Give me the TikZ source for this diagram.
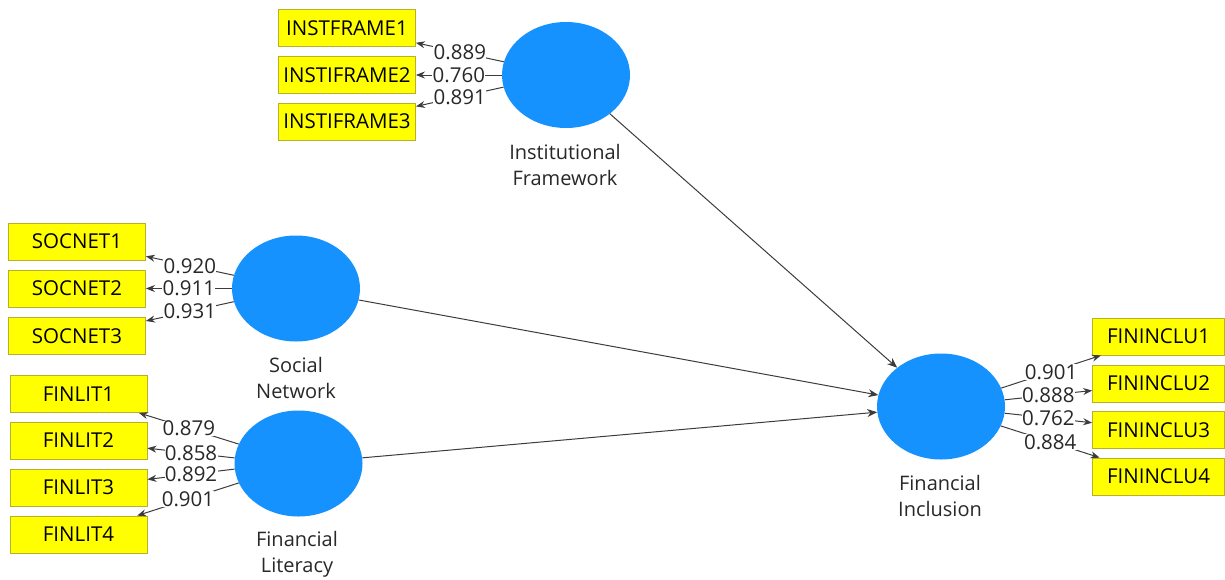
\documentclass[tikz,border=0pt]{standalone}
\usepackage{fontspec}
\setmainfont{Open Sans}
\usetikzlibrary{arrows.meta,shapes.geometric}
\definecolor{lvblue}{RGB}{22,146,255}
\definecolor{mvyellow}{RGB}{255,255,0}
\definecolor{mvborder}{RGB}{185,175,40}
\definecolor{txt}{RGB}{40,40,40}
\definecolor{lncol}{RGB}{60,60,60}
\tikzset{
  latent/.style={ellipse, fill=lvblue, minimum width=128pt, minimum height=106pt, inner sep=0pt},
  indicator/.style={rectangle, fill=mvyellow, draw=mvborder, line width=0.8pt, minimum width=137pt, minimum height=37pt, inner sep=0pt, text=black, font=\fontsize{20.5}{24}\selectfont},
  lvname/.style={align=center, text=txt, font=\fontsize{20}{26}\selectfont},
  loading/.style={draw=lncol, line width=1pt, -{Stealth[length=9pt,width=7pt]}},
  path/.style={draw=lncol, line width=1pt, -{Stealth[length=10pt,width=8pt]}},
  coef/.style={fill=white, inner sep=0.3pt, text=txt, font=\fontsize{20.5}{24}\selectfont}
}
\begin{document}
\begin{tikzpicture}[x=1pt,y=-1pt]
\useasboundingbox (0,0) rectangle (1225,579);
% latent variables
\node[latent] (inst) at (566,75) {};
\node[latent] (soc) at (296,288.5) {};
\node[latent] (lit) at (298.5,463.5) {};
\node[latent] (fi) at (941,406.5) {};
% names
\node[lvname] (instn) at (565,165) {Institutional\\Framework};
\node[lvname] (socn) at (296,378) {Social\\Network};
\node[lvname] (litn) at (297,554) {Financial\\Literacy};
\node[lvname] (fin) at (940,496) {Financial\\Inclusion};
% indicators
\node[indicator] (if1) at (347,28) {INSTFRAME1};
\node[indicator] (if2) at (347,75) {INSTIFRAME2};
\node[indicator] (if3) at (347,121.5) {INSTIFRAME3};
\node[indicator] (sn1) at (77,241.5) {SOCNET1};
\node[indicator] (sn2) at (77,288.5) {SOCNET2};
\node[indicator] (sn3) at (77,336) {SOCNET3};
\node[indicator] (fl1) at (78.5,394) {FINLIT1};
\node[indicator] (fl2) at (78.5,440.5) {FINLIT2};
\node[indicator] (fl3) at (78.5,487.5) {FINLIT3};
\node[indicator] (fl4) at (78.5,534.5) {FINLIT4};
\node[indicator, minimum width=132pt] (fc1) at (1158.5,336.5) {FININCLU1};
\node[indicator, minimum width=132pt] (fc2) at (1158.5,383.5) {FININCLU2};
\node[indicator, minimum width=132pt] (fc3) at (1158.5,430) {FININCLU3};
\node[indicator, minimum width=132pt] (fc4) at (1158.5,476.5) {FININCLU4};
% loadings
\draw[loading] (inst.168.5) -- node[coef] {0.889} (if1);
\draw[loading] (inst.180) -- node[coef] {0.760} (if2);
\draw[loading] (inst.191.5) -- node[coef] {0.891} (if3);
\draw[loading] (soc.168) -- node[coef] {0.920} (sn1);
\draw[loading] (soc.180) -- node[coef] {0.911} (sn2);
\draw[loading] (soc.192) -- node[coef] {0.931} (sn3);
\draw[loading] (lit.162.4) -- node[coef] {0.879} (fl1);
\draw[loading] (lit.175) -- node[coef] {0.858} (fl2);
\draw[loading] (lit.185) -- node[coef] {0.892} (fl3);
\draw[loading] (lit.198.4) -- node[coef] {0.901} (fl4);
\draw[loading] (fi.17.7) -- node[coef] {0.901} (fc1);
\draw[loading] (fi.6.7) -- node[coef] {0.888} (fc2);
\draw[loading] (fi.-6.7) -- node[coef] {0.762} (fc3);
\draw[loading] (fi.-18.6) -- node[coef] {0.884} (fc4);
% structural paths
\draw[path] (inst) -- (fi);
\draw[path] (soc) -- (fi);
\draw[path] (lit) -- (fi);
\end{tikzpicture}
\end{document}
